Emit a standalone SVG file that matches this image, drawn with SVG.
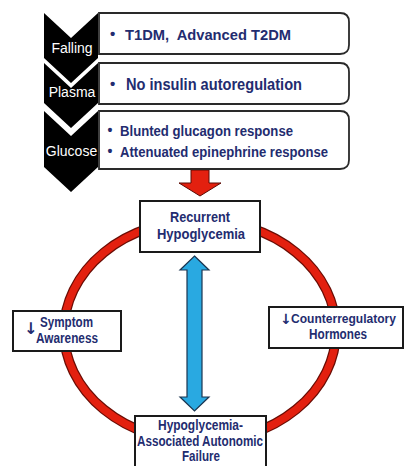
<svg xmlns="http://www.w3.org/2000/svg" width="404" height="466" viewBox="0 0 404 466">
<style>
.chev{fill:#000}
.ctext{fill:#fff;font-family:"Liberation Sans",Arial,sans-serif;font-size:14px;text-anchor:middle}
.box{fill:#fff;stroke:#2a2a2a;stroke-width:1.8}
.t{fill:#232c6f;font-family:"Liberation Sans",Arial,sans-serif;font-weight:bold}
.arr{fill:#232c6f;font-family:"DejaVu Sans",sans-serif;font-weight:bold}
.sq{fill:#fff;stroke:#1a1a1a;stroke-width:2}
</style>
<rect width="404" height="466" fill="#fff"/>
<g id="connectors">
  <ellipse cx="200" cy="331" rx="136" ry="111" fill="none" stroke="#6a0c04" stroke-width="10"/>
  <ellipse cx="200" cy="331" rx="136" ry="111" fill="none" stroke="#e3200f" stroke-width="7.5"/>
  <path d="M191,170 L209,170 L209,183 L221,183 L200,196 L179,183 L191,183 Z" fill="#e3200f" stroke="#5a0a04" stroke-width="1"/>
  <path d="M194.5,256 L209,270 L202,270 L202,397 L209,397 L194.5,411 L180,397 L187,397 L187,270 L180,270 Z" fill="#29a9e1" stroke="#1b3550" stroke-width="1.2"/>
</g>
<g id="falling">
  <path class="chev" d="M44,13 L71,38 L98,13 L98,58 L71,83 L44,58 Z"/>
  <text class="ctext" x="72" y="53">Falling</text>
</g>
<g id="plasma">
  <path class="chev" d="M44,63 L71,88 L98,63 L98,103 L71,128 L44,103 Z"/>
  <text class="ctext" x="72" y="97">Plasma</text>
</g>
<g id="glucose">
  <path class="chev" d="M44,111 L71,136 L98,111 L98,167 L71,192 L44,167 Z"/>
  <text class="ctext" x="71.5" y="156">Glucose</text>
</g>
<g id="box1">
  <path class="box" d="M99,13 L340,13 Q349,13 349,22 L349,45 Q349,54 340,54 L99,54 Z"/>
  <text class="t" x="110" y="39" font-size="15">•</text>
  <text class="t" x="125" y="40" font-size="15.5" xml:space="preserve" textLength="166" lengthAdjust="spacingAndGlyphs">T1DM,  Advanced T2DM</text>
</g>
<g id="box2">
  <path class="box" d="M99,63 L340,63 Q349,63 349,72 L349,95 Q349,104 340,104 L99,104 Z"/>
  <text class="t" x="110" y="89" font-size="15">•</text>
  <text class="t" x="126" y="90" font-size="16" textLength="176" lengthAdjust="spacingAndGlyphs">No insulin autoregulation</text>
</g>
<g id="box3">
  <path class="box" d="M99,111 L340,111 Q349,111 349,120 L349,160 Q349,169 340,169 L99,169 Z"/>
  <text class="t" x="107.5" y="135" font-size="14">•</text>
  <text class="t" x="120" y="136" font-size="14.5" textLength="173" lengthAdjust="spacingAndGlyphs">Blunted glucagon response</text>
  <text class="t" x="107.5" y="156" font-size="14">•</text>
  <text class="t" x="120" y="157" font-size="14.5" textLength="208" lengthAdjust="spacingAndGlyphs">Attenuated epinephrine response</text>
</g>
<g id="recurrent">
  <rect class="sq" x="140" y="201" width="120" height="51"/>
  <text class="t" x="170" y="222" font-size="15" textLength="60" lengthAdjust="spacingAndGlyphs">Recurrent</text>
  <text class="t" x="157" y="239" font-size="15" textLength="88" lengthAdjust="spacingAndGlyphs">Hypoglycemia</text>
</g>
<g id="symptom">
  <rect class="sq" x="13" y="311" width="108" height="40"/>
  <text class="arr" x="24" y="334" font-size="16">↓</text>
  <text class="t" x="40" y="327" font-size="14.5" textLength="53" lengthAdjust="spacingAndGlyphs">Symptom</text>
  <text class="t" x="36" y="343" font-size="14.5" textLength="62" lengthAdjust="spacingAndGlyphs">Awareness</text>
</g>
<g id="counter">
  <rect class="sq" x="269" y="307" width="134" height="41"/>
  <text class="arr" x="280" y="324" font-size="14">↓</text>
  <text class="t" x="291" y="323" font-size="12.8" textLength="105" lengthAdjust="spacingAndGlyphs">Counterregulatory</text>
  <text class="t" x="309" y="339" font-size="14.5" textLength="58" lengthAdjust="spacingAndGlyphs">Hormones</text>
</g>
<g id="haaf">
  <rect class="sq" x="135" y="416" width="131" height="60"/>
  <text class="t" x="158" y="430" font-size="14.5" textLength="85" lengthAdjust="spacingAndGlyphs">Hypoglycemia-</text>
  <text class="t" x="137" y="446" font-size="14.5" textLength="126" lengthAdjust="spacingAndGlyphs">Associated Autonomic</text>
  <text class="t" x="182" y="461" font-size="14.5" textLength="38" lengthAdjust="spacingAndGlyphs">Failure</text>
</g>
</svg>
